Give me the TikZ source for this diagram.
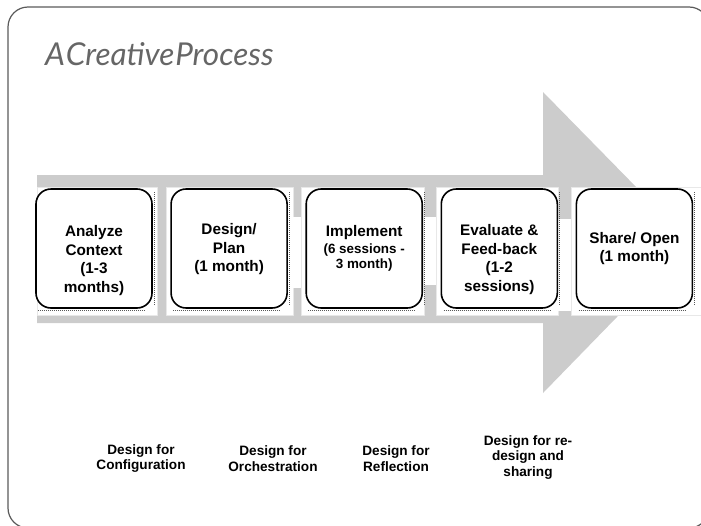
\documentclass[tikz,border=0pt]{standalone}
\usepackage{fontspec}
\setmainfont{Liberation Sans}
\newfontfamily\titlefont[WordSpace=0.1]{Lato}
\usetikzlibrary{positioning}
\definecolor{arrowgray}{HTML}{CCCCCC}
\definecolor{framegray}{HTML}{5A5A5A}
\definecolor{titlegray}{HTML}{666666}
\definecolor{panelline}{HTML}{E8E8E8}

\begin{document}
\begin{tikzpicture}[x=1pt,y=-1pt,line join=round,
  stage/.style={draw,line width=1.6pt,rounded corners=15pt,fill=white,
    minimum width=116pt,minimum height=119pt,inner sep=0pt},
  stagetext/.style={align=center,font=\fontsize{15.3}{18.5}\selectfont\bfseries},
  design/.style={align=center,font=\fontsize{13.6}{15.5}\selectfont\bfseries},
  panel/.style={fill=white,draw=panelline,line width=0.6pt},
  dots/.style={densely dotted,line width=1pt,black!65}]
\useasboundingbox (0,0) rectangle (701,525);
\clip (0,0) rectangle (701,525);
% slide frame
\draw[framegray,line width=1.2pt,rounded corners=20pt] (8,7) rectangle (709,528);
% big grey arrow
\fill[arrowgray] (37,175) -- (543,175) -- (543,92) -- (690,242) -- (543,393)
  -- (543,323) -- (37,323) -- cycle;
\draw[panel] (37,187) rectangle (157,315);
\draw[panel] (166,187) rectangle (293,315);
\draw[panel] (301,187) rectangle (424,315);
\draw[panel] (436,187) rectangle (558,315);
\draw[panel] (571,187) rectangle (705,315);
\fill[white] (293,217) rectangle (301,288);
\fill[white] (424,217) rectangle (436,285);
\fill[white] (558,219) rectangle (571,311);
% stages
\node[stage] (analyze) at (94,248.5) {};
\node[stage,right=17.5pt of analyze] (plan) {};
\node[stage,right=17.5pt of plan] (implement) {};
\node[stage,right=17.5pt of implement] (evaluate) {};
\node[stage,right=17.5pt of evaluate] (share) {};
\foreach \n in {analyze,plan,implement,evaluate,share}{
  \draw[dots] ([xshift=3pt,yshift=-2pt]\n.south west) -- ([xshift=-7pt,yshift=-2pt]\n.south east);
  \draw[dots] ([xshift=1.5pt,yshift=-4pt]\n.north east) -- ([xshift=1.5pt,yshift=4pt]\n.south east);
}
\node[stagetext] (analyzetxt) at ([yshift=-12pt]analyze.center) {Analyze\\Context\\(1-3\\months)};
\node[stagetext] (plantxt) at ([yshift=-1pt]plan.center) {Design/\\Plan\\(1 month)};
\node[stagetext] (implementtxt) at (implement.center)
  {Implement\\[-2pt]{\fontsize{13.4}{14}\selectfont(6 sessions -}\\[-3pt]{\fontsize{13.4}{14}\selectfont 3 month)}};
\node[stagetext] (evaluatetxt) at ([yshift=-11pt]evaluate.center) {Evaluate \&\\Feed-back\\(1-2\\sessions)};
\node[stagetext] (sharetxt) at (share.center) {Share/ Open\\(1 month)};
% design labels
\node[design] (config) at (141,458.5) {Design for\\Configuration};
\node[design] (orch) at (273,458.5) {Design for\\Orchestration};
\node[design] (refl) at (396,458.5) {Design for\\Reflection};
\node[design] (redesign) at (528,457.5) {Design for re-\\design and\\sharing};
% title
\node[anchor=base west,inner sep=0pt,text=titlegray,font=\titlefont\itshape\fontsize{31.5}{34}\selectfont]
  (title) at (45,65) {A Creative Process};
\end{tikzpicture}
\end{document}
